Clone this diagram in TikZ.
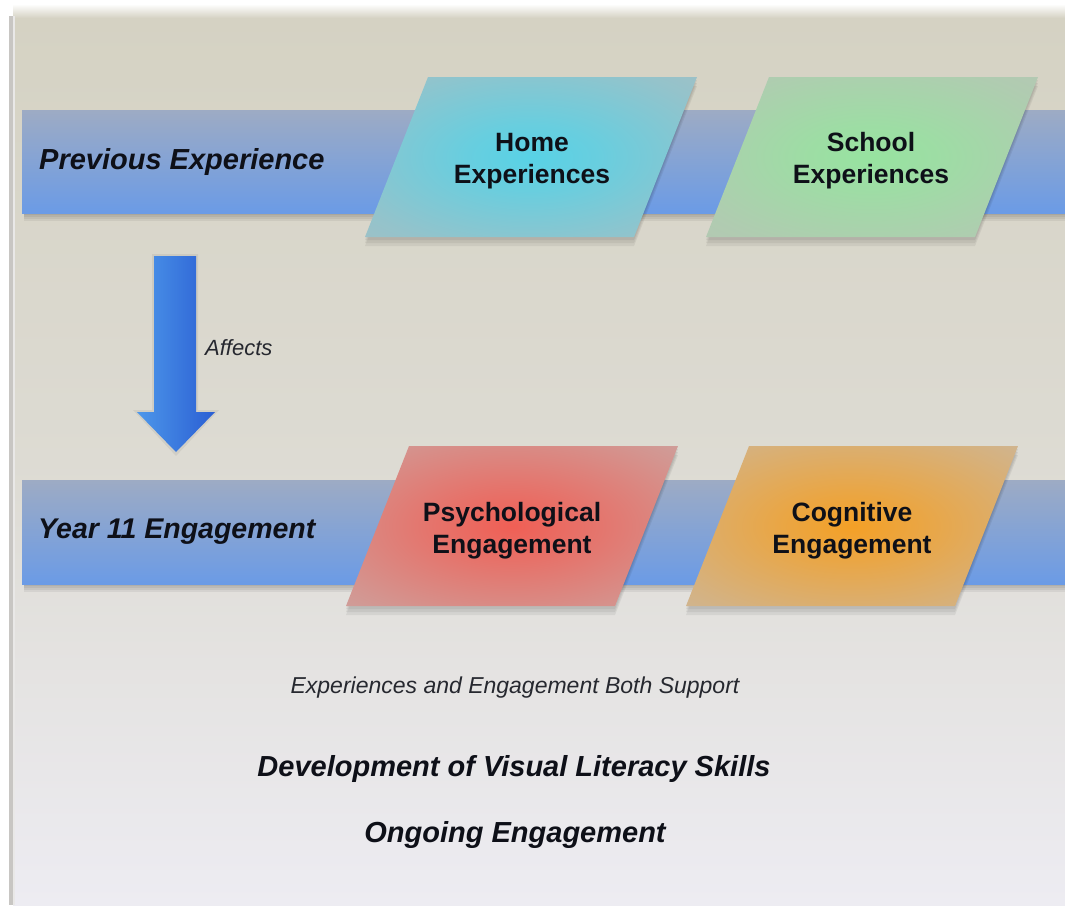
\documentclass[tikz,border=0pt]{standalone}
\usepackage{fontspec}
\setmainfont{Liberation Sans}
\usetikzlibrary{shadings}
\definecolor{bgtop}{HTML}{D5D2C3}
\definecolor{bgmid}{HTML}{DDDBD3}
\definecolor{bgbot}{HTML}{EDECF2}
\definecolor{edgeline}{HTML}{C8C6C3}
\definecolor{bandtop}{HTML}{9DABC4}
\definecolor{bandbot}{HTML}{6B9BE6}
\definecolor{arrowL}{HTML}{4D97EA}
\definecolor{arrowR}{HTML}{2A5ED3}
\definecolor{homeC}{HTML}{58D2E6}
\definecolor{homeE}{HTML}{A8BEC2}
\definecolor{schoolC}{HTML}{97E3A0}
\definecolor{schoolE}{HTML}{B8C4B6}
\definecolor{psychC}{HTML}{F05F55}
\definecolor{psychE}{HTML}{C8ABA8}
\definecolor{cogC}{HTML}{F4A026}
\definecolor{cogE}{HTML}{C8B9A6}
\definecolor{txtdark}{HTML}{0E1018}
\colorlet{homeM}{homeC!80!homeE}
\colorlet{schoolM}{schoolC!80!schoolE}
\colorlet{psychM}{psychC!78!psychE}
\colorlet{cogM}{cogC!78!cogE}
\colorlet{homeN}{homeE!75!homeC}
\colorlet{schoolN}{schoolE!75!schoolC}
\colorlet{psychN}{psychE!70!psychC}
\colorlet{cogN}{cogE!70!cogC}
\pgfdeclareradialshading{homeglow}{\pgfpointorigin}{color(0bp)=(homeC); color(10bp)=(homeM); color(30bp)=(homeN); color(44bp)=(homeE); color(50bp)=(homeE)}
\pgfdeclareradialshading{schoolglow}{\pgfpointorigin}{color(0bp)=(schoolC); color(10bp)=(schoolM); color(30bp)=(schoolN); color(44bp)=(schoolE); color(50bp)=(schoolE)}
\pgfdeclareradialshading{psychglow}{\pgfpointorigin}{color(0bp)=(psychC); color(10bp)=(psychM); color(30bp)=(psychN); color(44bp)=(psychE); color(50bp)=(psychE)}
\pgfdeclareradialshading{cogglow}{\pgfpointorigin}{color(0bp)=(cogC); color(10bp)=(cogM); color(30bp)=(cogN); color(44bp)=(cogE); color(50bp)=(cogE)}
\tikzset{
  bandlabel/.style={font=\fontsize{29}{34}\selectfont\bfseries\itshape, text=txtdark, inner sep=0pt, anchor=base west},
  boxtext/.style={font=\fontsize{26.5}{32}\selectfont\bfseries, align=center, text=txtdark, inner sep=0pt},
  smallital/.style={font=\fontsize{23}{28}\selectfont\itshape, text=txtdark!90, inner sep=0pt, anchor=base},
  bigital/.style={font=\fontsize{29}{34}\selectfont\bfseries\itshape, text=txtdark, inner sep=0pt, anchor=base},
  softshadow/.style={fill=black, opacity=0.06},
  bandfill/.style={top color=bandtop, bottom color=bandbot}
}
\begin{document}
\begin{tikzpicture}[x=1pt,y=-1pt]
\useasboundingbox (0,0) rectangle (1065,905);
% backdrop
\fill[white] (0,0) rectangle (1065,905);
\shade[top color=white, bottom color=bgtop] (13,4) rectangle (1065,18);
\shade[top color=bgtop, bottom color=bgbot, middle color=bgmid] (13,18) rectangle (1065,905);
\fill[edgeline] (8.5,16) rectangle (12.5,905);
\fill[edgeline!40] (12.5,16) rectangle (15,905);

% bands with soft shadows
\foreach \d in {2,4,6,8} {
  \fill[softshadow] (24,110+\d) rectangle (1065,213+\d);
  \fill[softshadow] (24,480+\d) rectangle (1065,584+\d);
}
\shade[bandfill] (22,110) rectangle (1065,213);
\shade[bandfill] (22,480) rectangle (1065,584);

% parallelogram shadows
\foreach \cx/\cy in {531/157, 872/157, 512/526, 852/526} {
  \foreach \d in {3,6,9} {
    \fill[softshadow] ([shift={(0,\d)}]\cx-103,\cy-80) -- ([shift={(0,\d)}]\cx+166,\cy-80)
      -- ([shift={(0,\d)}]\cx+103,\cy+80) -- ([shift={(0,\d)}]\cx-166,\cy+80) -- cycle;
  }
}
% parallelograms
\shade[shading=homeglow]   (531-103,77) -- (531+166,77) -- (531+103,237) -- (531-166,237) -- cycle;
\shade[shading=schoolglow] (872-103,77) -- (872+166,77) -- (872+103,237) -- (872-166,237) -- cycle;
\shade[shading=psychglow]  (512-103,446) -- (512+166,446) -- (512+103,606) -- (512-166,606) -- cycle;
\shade[shading=cogglow]    (852-103,446) -- (852+166,446) -- (852+103,606) -- (852-166,606) -- cycle;

% block arrow
\fill[black, opacity=0.06] (152,254) -- (198,254) -- (198,410) -- (219,410) -- (176,456) -- (133,410) -- (152,410) -- cycle;
\shade[left color=arrowL, right color=arrowR] (154,256) -- (196,256) -- (196,412) -- (215,412) -- (176,452) -- (137,412) -- (154,412) -- cycle;

% labels
\node[bandlabel] (prev) at (39,169) {Previous Experience};
\node[bandlabel, font=\fontsize{28.5}{34}\selectfont\bfseries\itshape] (year) at (38,538) {Year 11 Engagement};
\node[boxtext] (home) at (532,161) {Home\\Experiences};
\node[boxtext] (school) at (871,161) {School\\Experiences};
\node[boxtext] (psych) at (512,531) {Psychological\\Engagement};
\node[boxtext] (cog) at (852,531) {Cognitive\\Engagement};
\node[smallital, anchor=base west, font=\fontsize{22}{26}\selectfont\itshape] (affects) at (205,355) {Affects};
\node[smallital] (support) at (515,693) {Experiences and Engagement Both Support};
\node[bigital] (visual) at (514,776) {Development of Visual Literacy Skills};
\node[bigital] (ongoing) at (515,842) {Ongoing Engagement};
\end{tikzpicture}
\end{document}
